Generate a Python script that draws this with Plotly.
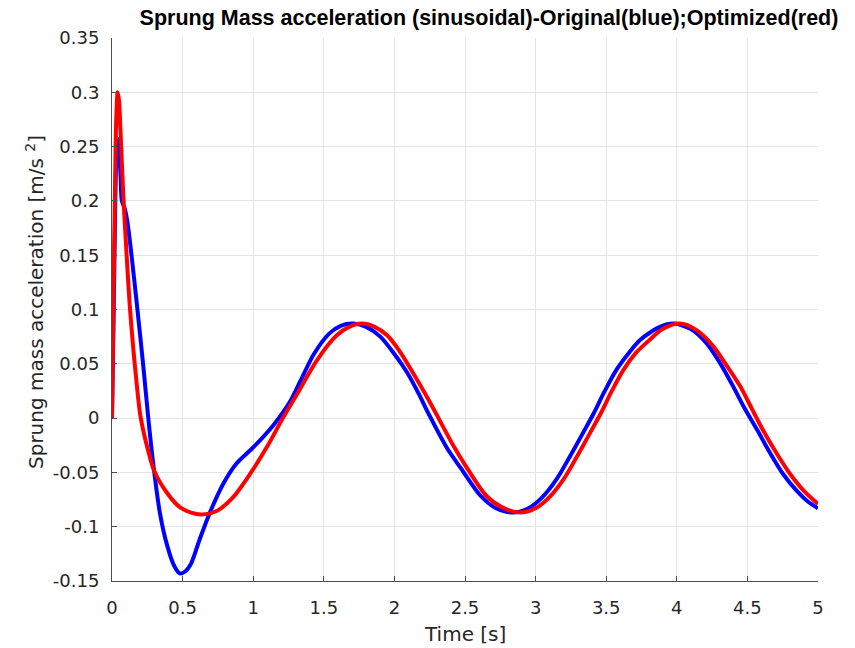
import plotly.graph_objects as go

# Original (blue)
t_blue = [0.00, 0.01, 0.02, 0.03, 0.045, 0.06, 0.07, 0.09, 0.11, 0.14, 0.18, 0.22, 0.257, 0.29,
          0.34, 0.39, 0.44, 0.48, 0.52, 0.56, 0.62, 0.69, 0.79, 0.88, 1.00, 1.14, 1.26, 1.33,
          1.43, 1.54, 1.62, 1.71, 1.80, 1.90, 2.00, 2.09, 2.17, 2.25, 2.37, 2.47, 2.61, 2.72,
          2.84, 2.95, 3.05, 3.15, 3.24, 3.33, 3.41, 3.49, 3.57, 3.66, 3.74, 3.88, 3.98, 4.10,
          4.21, 4.30, 4.40, 4.48, 4.57, 4.66, 4.75, 4.85, 4.93, 5.00]
a_blue = [0.000, 0.080, 0.170, 0.235, 0.257, 0.225, 0.200, 0.193, 0.180, 0.148, 0.100, 0.050, 0.000, -0.040,
          -0.088, -0.117, -0.136, -0.143, -0.141, -0.134, -0.112, -0.088, -0.060, -0.042, -0.027, -0.007, 0.015, 0.033,
          0.059, 0.078, 0.085, 0.087, 0.084, 0.075, 0.059, 0.042, 0.023, 0.002, -0.027, -0.046, -0.0715, -0.083,
          -0.087, -0.083, -0.0725, -0.056, -0.036, -0.015, 0.004, 0.025, 0.044, 0.060, 0.072, 0.084, 0.087, 0.082,
          0.069, 0.052, 0.029, 0.009, -0.011, -0.032, -0.051, -0.067, -0.077, -0.083]

# Optimized (red)
t_red = [0.00, 0.01, 0.02, 0.03, 0.04, 0.05, 0.06, 0.08, 0.10, 0.125, 0.15, 0.17, 0.20, 0.25,
         0.30, 0.39, 0.48, 0.56, 0.63, 0.70, 0.75, 0.86, 0.98, 1.10, 1.21, 1.31, 1.45, 1.59,
         1.68, 1.77, 1.86, 1.95, 2.04, 2.13, 2.22, 2.30, 2.42, 2.50, 2.65, 2.76, 2.89, 3.00,
         3.10, 3.20, 3.29, 3.38, 3.46, 3.54, 3.62, 3.71, 3.79, 3.90, 4.02, 4.14, 4.26, 4.35,
         4.45, 4.53, 4.61, 4.70, 4.80, 4.90, 5.00]
a_red = [0.000, 0.100, 0.200, 0.275, 0.300, 0.292, 0.265, 0.205, 0.158, 0.105, 0.065, 0.038, 0.003, -0.027,
         -0.049, -0.069, -0.082, -0.087, -0.0887, -0.0875, -0.085, -0.0725, -0.051, -0.026, 0.000, 0.022, 0.053, 0.076,
         0.084, 0.087, 0.084, 0.076, 0.061, 0.042, 0.022, 0.003, -0.026, -0.043, -0.0715, -0.082, -0.087, -0.083,
         -0.0725, -0.056, -0.036, -0.015, 0.004, 0.025, 0.044, 0.060, 0.070, 0.082, 0.087, 0.081, 0.066, 0.049,
         0.029, 0.009, -0.011, -0.031, -0.051, -0.067, -0.079]

x_ticks = [0, 0.5, 1, 1.5, 2, 2.5, 3, 3.5, 4, 4.5, 5]
x_tick_labels = ["0", "0.5", "1", "1.5", "2", "2.5", "3", "3.5", "4", "4.5", "5"]
y_ticks = [-0.15, -0.1, -0.05, 0, 0.05, 0.1, 0.15, 0.2, 0.25, 0.3, 0.35]
y_tick_labels = ["-0.15", "-0.1", "-0.05", "0", "0.05", "0.1", "0.15", "0.2", "0.25", "0.3", "0.35"]

FONT = "DejaVu Sans, Liberation Sans, sans-serif"
TITLE_FONT = "Liberation Sans, Arial, sans-serif"

fig = go.Figure()
fig.add_trace(go.Scatter(x=t_blue, y=a_blue, mode="lines", name="Original",
                         line=dict(color="#0000ff", width=4, shape="spline", smoothing=0.8)))
fig.add_trace(go.Scatter(x=t_red, y=a_red, mode="lines", name="Optimized",
                         line=dict(color="#ff0000", width=4, shape="spline", smoothing=0.8)))

axis_common = dict(
    showline=True, linecolor="#4d4d4d", linewidth=1,
    showgrid=True, gridcolor="#e3e3e3", gridwidth=1,
    zeroline=False, ticks="inside", ticklen=5, tickcolor="#4d4d4d",
    tickfont=dict(family=FONT, size=18, color="#262626"),
    mirror=False,
)

fig.update_layout(
    width=855, height=648,
    margin=dict(l=112, r=37, t=38, b=67),
    paper_bgcolor="white", plot_bgcolor="white",
    showlegend=False,
    title=dict(text="<b>Sprung Mass acceleration (sinusoidal)-Original(blue);Optimized(red)</b>",
               font=dict(family=TITLE_FONT, size=21.5, color="black"),
               x=(489 - 112) / 706, xref="paper", xanchor="center",
               y=1 - 17 / 648, yref="container", yanchor="middle"),
    xaxis=dict(range=[0, 5], tickvals=x_ticks, ticktext=x_tick_labels,
               ticklabelstandoff=10, **axis_common),
    yaxis=dict(range=[-0.15, 0.35], tickvals=y_ticks, ticktext=y_tick_labels,
               ticklabelstandoff=8, **axis_common),
    annotations=[
        dict(text="Time [s]", xref="paper", yref="paper", x=0.5, y=(581 - 634) / 543,
             xanchor="center", yanchor="middle", showarrow=False,
             font=dict(family=FONT, size=20, color="#262626")),
        dict(text="Sprung mass acceleration [m/s <sup>2</sup>]", xref="paper", yref="paper",
             x=(35 - 112) / 706, y=(581 - 302) / 543, xanchor="center", yanchor="middle",
             textangle=-90, showarrow=False,
             font=dict(family=FONT, size=20, color="#262626")),
    ],
)

fig.write_html("out.html")
